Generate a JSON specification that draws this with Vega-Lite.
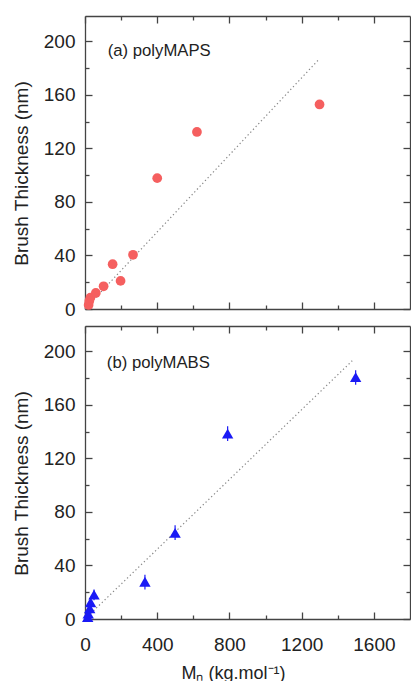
{
  "$schema": "https://vega.github.io/schema/vega-lite/v6.json",
  "padding": {"left": 12, "top": 15, "right": 0, "bottom": 0},
  "autosize": {"type": "pad"},
  "spacing": 6,
  "config": {
    "view": {"stroke": null},
    "font": "Liberation Sans",
    "axis": {
      "labelFont": "Liberation Sans",
      "titleFont": "Liberation Sans",
      "labelFontSize": 19,
      "titleFontSize": 19,
      "titleFontWeight": "normal",
      "labelColor": "#222",
      "titleColor": "#222",
      "domainColor": "#444",
      "domainWidth": 1.3,
      "tickColor": "#444",
      "tickWidth": 1.3,
      "grid": false,
      "minExtent": 0,
      "offset": 0,
      "labelFlush": false,
      "labelPadding": 4
    }
  },
  "datasets": {
    "maps": [
      {"M": 20, "thickness": 3},
      {"M": 24, "thickness": 6},
      {"M": 30, "thickness": 8.5},
      {"M": 60, "thickness": 12},
      {"M": 103, "thickness": 17},
      {"M": 153, "thickness": 33.5},
      {"M": 197, "thickness": 21},
      {"M": 266, "thickness": 40.5},
      {"M": 400, "thickness": 97.8},
      {"M": 620, "thickness": 132.3},
      {"M": 1299, "thickness": 152.9}
    ],
    "mabs": [
      {"M": 15, "thickness": 1.5, "lo": 0, "hi": 4},
      {"M": 18, "thickness": 4, "lo": 1, "hi": 7},
      {"M": 26, "thickness": 8, "lo": 5, "hi": 11},
      {"M": 31, "thickness": 12.5, "lo": 9, "hi": 16},
      {"M": 50, "thickness": 18.2, "lo": 14, "hi": 22},
      {"M": 332, "thickness": 27.8, "lo": 22, "hi": 33},
      {"M": 499, "thickness": 64.4, "lo": 59, "hi": 70},
      {"M": 790, "thickness": 138.6, "lo": 133, "hi": 144},
      {"M": 1499, "thickness": 180.8, "lo": 175, "hi": 186}
    ],
    "fitA": [
      {"M": 0, "thickness": 0},
      {"M": 1295, "thickness": 186.5}
    ],
    "fitB": [
      {"M": 0, "thickness": 0},
      {"M": 1480, "thickness": 193}
    ]
  },
  "vconcat": [
    {
      "width": 325,
      "height": 293,
      "layer": [
        {
          "data": {"name": "fitA"},
          "mark": {"type": "line", "color": "#888", "strokeWidth": 1.2, "strokeDash": [1.3, 2.6]},
          "encoding": {
            "x": {"field": "M", "type": "quantitative", "scale": {"domain": [0, 1800], "nice": false},
              "axis": {"orient": "bottom", "title": null, "labels": false, "values": [0, 400, 800, 1200, 1600], "tickSize": -7}},
            "y": {"field": "thickness", "type": "quantitative", "scale": {"domain": [0, 219], "nice": false},
              "axis": {"orient": "left", "title": "Brush Thickness (nm)", "titleY": 157, "titlePadding": 12,
                "values": [0, 40, 80, 120, 160, 200], "format": "d", "labelPadding": 17, "tickSize": -7}}
          }
        },
        {
          "data": {"name": "maps"},
          "transform": [{"filter": "datum.M >= 120"}],
          "mark": {"type": "circle", "color": "#f55f5f", "opacity": 1, "size": 95},
          "encoding": {
            "x": {"field": "M", "type": "quantitative",
              "axis": {"orient": "top", "title": null, "labels": false, "values": [0, 400, 800, 1200, 1600], "tickSize": -7}},
            "y": {"field": "thickness", "type": "quantitative",
              "axis": {"orient": "right", "title": null, "labels": false, "values": [0, 40, 80, 120, 160, 200], "tickSize": -7}}
          }
        },
        {
          "data": {"name": "maps"},
          "transform": [{"filter": "datum.M < 120"}],
          "mark": {"type": "circle", "color": "#f55f5f", "opacity": 1, "size": 95},
          "encoding": {
            "x": {"field": "M", "type": "quantitative",
              "axis": {"orient": "top", "title": null, "labels": false, "domain": false, "values": [200, 600, 1000, 1400], "tickSize": -4}},
            "y": {"field": "thickness", "type": "quantitative",
              "axis": {"orient": "right", "title": null, "labels": false, "domain": false, "values": [20, 60, 100, 140, 180], "tickSize": -4}}
          }
        },
        {
          "data": {"values": [{"label": "(a) polyMAPS"}]},
          "mark": {"type": "text", "align": "left", "baseline": "middle", "fontSize": 16.7, "font": "Liberation Sans", "color": "#222"},
          "encoding": {
            "x": {"datum": 126, "type": "quantitative",
              "axis": {"orient": "bottom", "title": null, "labels": false, "domain": false, "values": [200, 600, 1000, 1400], "tickSize": -4}},
            "y": {"datum": 192.5, "type": "quantitative",
              "axis": {"orient": "left", "title": null, "labels": false, "domain": false, "values": [20, 60, 100, 140, 180], "tickSize": -4}},
            "text": {"field": "label"}
          }
        }
      ],
      "resolve": {"axis": {"x": "independent", "y": "independent"}}
    },
    {
      "width": 325,
      "height": 293,
      "layer": [
        {
          "data": {"name": "fitB"},
          "mark": {"type": "line", "color": "#888", "strokeWidth": 1.2, "strokeDash": [1.3, 2.6]},
          "encoding": {
            "x": {"field": "M", "type": "quantitative", "scale": {"domain": [0, 1800], "nice": false},
              "axis": {"orient": "bottom", "title": "Mₙ (kg.mol⁻¹)", "titleX": 148, "titleFontSize": 18, "titlePadding": 10,
                "values": [0, 400, 800, 1200, 1600], "format": "d", "labelPadding": 23, "tickSize": -7}},
            "y": {"field": "thickness", "type": "quantitative", "scale": {"domain": [0, 219], "nice": false},
              "axis": {"orient": "left", "title": "Brush Thickness (nm)", "titleY": 157, "titlePadding": 12,
                "values": [0, 40, 80, 120, 160, 200], "format": "d", "labelPadding": 17, "tickSize": -7}}
          }
        },
        {
          "data": {"name": "mabs"},
          "mark": {"type": "rule", "color": "#1a1af5", "strokeWidth": 1.2},
          "encoding": {
            "x": {"field": "M", "type": "quantitative",
              "axis": {"orient": "top", "title": null, "labels": false, "domain": false, "values": [200, 600, 1000, 1400], "tickSize": -4}},
            "y": {"field": "lo", "type": "quantitative",
              "axis": {"orient": "right", "title": null, "labels": false, "domain": false, "values": [20, 60, 100, 140, 180], "tickSize": -4}},
            "y2": {"field": "hi"}
          }
        },
        {
          "data": {"name": "mabs"},
          "mark": {"type": "point", "shape": "triangle-up", "filled": true, "color": "#1a1af5", "opacity": 1, "size": 130},
          "encoding": {
            "x": {"field": "M", "type": "quantitative",
              "axis": {"orient": "top", "title": null, "labels": false, "values": [0, 400, 800, 1200, 1600], "tickSize": -7}},
            "y": {"field": "thickness", "type": "quantitative",
              "axis": {"orient": "right", "title": null, "labels": false, "values": [0, 40, 80, 120, 160, 200], "tickSize": -7}}
          }
        },
        {
          "data": {"values": [{"label": "(b) polyMABS"}]},
          "mark": {"type": "text", "align": "left", "baseline": "middle", "fontSize": 16.7, "font": "Liberation Sans", "color": "#222"},
          "encoding": {
            "x": {"datum": 121, "type": "quantitative",
              "axis": {"orient": "bottom", "title": null, "labels": false, "domain": false, "values": [200, 600, 1000, 1400], "tickSize": -4}},
            "y": {"datum": 191, "type": "quantitative",
              "axis": {"orient": "left", "title": null, "labels": false, "domain": false, "values": [20, 60, 100, 140, 180], "tickSize": -4}},
            "text": {"field": "label"}
          }
        }
      ],
      "resolve": {"axis": {"x": "independent", "y": "independent"}}
    }
  ]
}
